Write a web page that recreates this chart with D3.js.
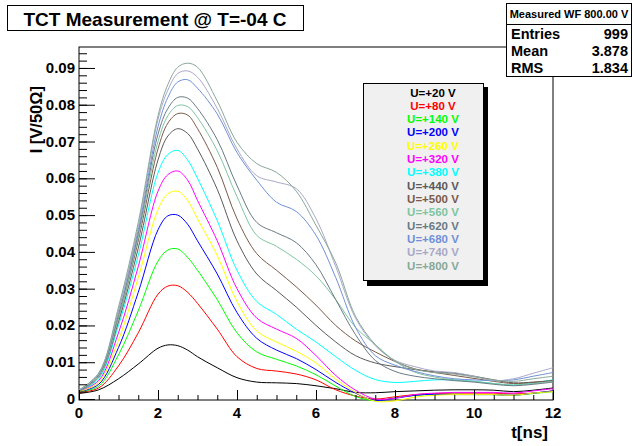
<!DOCTYPE html>
<html lang="en">
<head>
<meta charset="UTF-8">
<title>TCT Measurement</title>
<style>
  body { margin: 0; background: #fff; }
  svg { display: block; font-family: "Liberation Sans", Arial, sans-serif; font-weight: bold; }
</style>
</head>
<body>
<div id="wrapper"></div>
<script src="https://cdnjs.cloudflare.com/ajax/libs/d3/7.8.5/d3.min.js"></script>
<script>

// time samples [ns]
const times = [0, 0.5, 1, 1.5, 2, 2.25, 2.5, 2.75, 3, 3.5, 4, 4.5, 5, 5.5, 6, 6.5, 7, 7.5, 8, 8.5, 9, 9.5, 10, 10.5, 11, 11.5, 12]

const voltages = ["U=+20 V", "U=+80 V", "U=+140 V", "U=+200 V", "U=+260 V", "U=+320 V", "U=+380 V",
  "U=+440 V", "U=+500 V", "U=+560 V", "U=+620 V", "U=+680 V", "U=+740 V", "U=+800 V"]

const colors = ["#000000", "#ff0000", "#00ff00", "#0000ff", "#ffff00", "#ff00ff", "#00ffff",
  "#5a5a5a", "#7b5a4a", "#80c4a0", "#6a7a84", "#7090d8", "#aaa8c8", "#88a898"]

// current I [V/50ohm] per voltage
const u20  = [0.0015, 0.0025, 0.0055, 0.0095, 0.0138, 0.0147, 0.0145, 0.0133, 0.0115, 0.0085, 0.0058, 0.0046, 0.0044, 0.0042, 0.0036, 0.0028, 0.0018, 0.0017, 0.0020, 0.0022, 0.0024, 0.0025, 0.0025, 0.0024, 0.0020, 0.0024, 0.0030]
const u80  = [0.0018, 0.0030, 0.0090, 0.0180, 0.0285, 0.0307, 0.0308, 0.0290, 0.0260, 0.0190, 0.0115, 0.0083, 0.0076, 0.0068, 0.0052, 0.0025, 0.0008, 0.0000, 0.0006, 0.0012, 0.0015, 0.0016, 0.0016, 0.0016, 0.0014, 0.0016, 0.0022]
const u140 = [0.0020, 0.0035, 0.0120, 0.0240, 0.0375, 0.0405, 0.0408, 0.0385, 0.0350, 0.0270, 0.0180, 0.0128, 0.0108, 0.0090, 0.0066, 0.0035, 0.0007, -0.0005, 0.0003, 0.0010, 0.0012, 0.0013, 0.0012, 0.0012, 0.0010, 0.0015, 0.0020]
const u200 = [0.0020, 0.0040, 0.0140, 0.0290, 0.0460, 0.0498, 0.0500, 0.0475, 0.0430, 0.0340, 0.0235, 0.0165, 0.0133, 0.0110, 0.0080, 0.0045, 0.0016, -0.0004, 0.0002, 0.0010, 0.0013, 0.0012, 0.0012, 0.0012, 0.0010, 0.0016, 0.0022]
const u260 = [0.0020, 0.0045, 0.0160, 0.0330, 0.0515, 0.0558, 0.0565, 0.0540, 0.0490, 0.0390, 0.0265, 0.0185, 0.0155, 0.0130, 0.0098, 0.0054, 0.0018, -0.0006, -0.0005, 0.0005, 0.0010, 0.0012, 0.0012, 0.0012, 0.0010, 0.0016, 0.0020]
const u320 = [0.0022, 0.0050, 0.0180, 0.0360, 0.0565, 0.0610, 0.0620, 0.0595, 0.0540, 0.0430, 0.0300, 0.0220, 0.0190, 0.0165, 0.0118, 0.0064, 0.0024, 0.0000, 0.0002, 0.0012, 0.0016, 0.0018, 0.0018, 0.0018, 0.0016, 0.0022, 0.0028]
const u380 = [0.0022, 0.0055, 0.0200, 0.0390, 0.0615, 0.0665, 0.0676, 0.0650, 0.0600, 0.0485, 0.0350, 0.0265, 0.0230, 0.0190, 0.0155, 0.0115, 0.0078, 0.0053, 0.0045, 0.0048, 0.0052, 0.0052, 0.0048, 0.0042, 0.0038, 0.0044, 0.0052]
const u440 = [0.0022, 0.0060, 0.0210, 0.0410, 0.0650, 0.0715, 0.0735, 0.0722, 0.0680, 0.0570, 0.0430, 0.0340, 0.0295, 0.0250, 0.0200, 0.0155, 0.0118, 0.0098, 0.0088, 0.0080, 0.0074, 0.0070, 0.0062, 0.0052, 0.0044, 0.0046, 0.0050]
const u500 = [0.0022, 0.0060, 0.0220, 0.0430, 0.0680, 0.0750, 0.0776, 0.0772, 0.0735, 0.0630, 0.0490, 0.0395, 0.0350, 0.0305, 0.0255, 0.0200, 0.0158, 0.0128, 0.0102, 0.0082, 0.0072, 0.0064, 0.0056, 0.0048, 0.0042, 0.0045, 0.0050]
const u560 = [0.0022, 0.0060, 0.0220, 0.0440, 0.0700, 0.0770, 0.0798, 0.0795, 0.0765, 0.0675, 0.0550, 0.0445, 0.0415, 0.0380, 0.0335, 0.0270, 0.0195, 0.0148, 0.0103, 0.0073, 0.0060, 0.0052, 0.0048, 0.0042, 0.0038, 0.0042, 0.0048]
const u620 = [0.0022, 0.0065, 0.0230, 0.0450, 0.0720, 0.0790, 0.0820, 0.0818, 0.0790, 0.0705, 0.0580, 0.0480, 0.0452, 0.0425, 0.0365, 0.0270, 0.0175, 0.0105, 0.0075, 0.0062, 0.0055, 0.0050, 0.0046, 0.0040, 0.0036, 0.0040, 0.0046]
const u680 = [0.0024, 0.0070, 0.0240, 0.0460, 0.0740, 0.0820, 0.0862, 0.0868, 0.0845, 0.0775, 0.0670, 0.0595, 0.0535, 0.0510, 0.0445, 0.0330, 0.0195, 0.0118, 0.0092, 0.0075, 0.0063, 0.0055, 0.0052, 0.0050, 0.0052, 0.0062, 0.0072]
const u740 = [0.0024, 0.0070, 0.0240, 0.0470, 0.0760, 0.0840, 0.0885, 0.0892, 0.0875, 0.0790, 0.0680, 0.0607, 0.0590, 0.0572, 0.0490, 0.0360, 0.0220, 0.0145, 0.0105, 0.0088, 0.0076, 0.0072, 0.0062, 0.0050, 0.0055, 0.0070, 0.0085]
const u800 = [0.0025, 0.0070, 0.0250, 0.0480, 0.0770, 0.0855, 0.0902, 0.0913, 0.0902, 0.0810, 0.0698, 0.0640, 0.0616, 0.0565, 0.0472, 0.0370, 0.0225, 0.0148, 0.0103, 0.0081, 0.0072, 0.0068, 0.0060, 0.0052, 0.0048, 0.0055, 0.0062]

const seriesValues = [u20, u80, u140, u200, u260, u320, u380, u440, u500, u560, u620, u680, u740, u800]

const xTicks = [0, 2, 4, 6, 8, 10, 12]
const yTicks = [0, 0.01, 0.02, 0.03, 0.04, 0.05, 0.06, 0.07, 0.08, 0.09]

const statLabels = ["Entries", "Mean", "RMS"]
const statValues = ["999", "3.878", "1.834"]

const width = 633
const height = 446
const frame = { left: 79, right: 553, top: 47, bottom: 400 }

const svg = d3.select("#wrapper").append("svg")
  .attr("width", width)
  .attr("height", height)

svg.append("rect").attr("width", width).attr("height", height).attr("fill", "#fff")

const xScale = d3.scaleLinear().domain([0, 12]).range([frame.left, frame.right])
const yScale = d3.scaleLinear().domain([-0.00027, 0.0957]).range([frame.bottom, frame.top])

// frame
svg.append("rect")
  .attr("x", frame.left).attr("y", frame.top)
  .attr("width", frame.right - frame.left).attr("height", frame.bottom - frame.top)
  .attr("fill", "none").attr("stroke", "#000").attr("stroke-width", 1)

// curves
const line = d3.line()
  .x((d, i) => xScale(times[i]))
  .y(d => yScale(d))
  .curve(d3.curveCatmullRom.alpha(0.5))

const plot = svg.append("g")
seriesValues.forEach((vals, k) => {
  plot.append("path")
    .attr("d", line(vals))
    .attr("fill", "none")
    .attr("stroke", colors[k])
    .attr("stroke-width", 1)
})

// x axis (ticks point up into the frame)
const xMinor = d3.range(0, 12.01, 0.5)
const xAxis = d3.axisTop(xScale).tickValues(xMinor).tickSize(5).tickFormat("")
svg.append("g").attr("transform", `translate(0,${frame.bottom})`).call(xAxis)
const xMajor = d3.axisTop(xScale).tickValues(xTicks).tickSize(10).tickFormat("")
svg.append("g").attr("transform", `translate(0,${frame.bottom})`).call(xMajor)
svg.append("g").selectAll("text").data(xTicks).join("text")
  .attr("x", d => xScale(d)).attr("y", 418)
  .attr("text-anchor", "middle").attr("font-size", 15)
  .text(d => d)

// y axis (ticks point right into the frame)
const yMinor = d3.range(0, 0.0951, 0.002)
const yAxis = d3.axisRight(yScale).tickValues(yMinor).tickSize(8).tickFormat("")
svg.append("g").attr("transform", `translate(${frame.left},0)`).call(yAxis)
const yMajor = d3.axisRight(yScale).tickValues(yTicks).tickSize(16).tickFormat("")
svg.append("g").attr("transform", `translate(${frame.left},0)`).call(yMajor)
svg.append("g").selectAll("text").data(yTicks).join("text")
  .attr("x", 75).attr("y", d => yScale(d) + 5)
  .attr("text-anchor", "end").attr("font-size", 15)
  .text(d => d === 0 ? "0" : d3.format(".2f")(d))

svg.selectAll(".domain").remove()
svg.selectAll(".tick line").attr("stroke", "#000")

// axis titles
svg.append("text")
  .attr("x", 548).attr("y", 438)
  .attr("text-anchor", "end").attr("font-size", 17)
  .text("t[ns]")
svg.append("text")
  .attr("transform", "translate(42,86) rotate(-90)")
  .attr("text-anchor", "end").attr("font-size", 16.5)
  .text("I [V/50\u03a9]")

// title box
svg.append("rect")
  .attr("x", 7.5).attr("y", 5.5).attr("width", 296).attr("height", 25)
  .attr("fill", "#fff").attr("stroke", "#000")
svg.append("text")
  .attr("x", 155).attr("y", 25.5)
  .attr("text-anchor", "middle").attr("font-size", 19)
  .text("TCT Measurement @ T=-04 C")

// stats box
const stats = svg.append("g")
stats.append("rect")
  .attr("x", 506.5).attr("y", 3.5).attr("width", 125).attr("height", 73)
  .attr("fill", "#fff").attr("stroke", "#000")
stats.append("line")
  .attr("x1", 506.5).attr("x2", 631.5).attr("y1", 24.5).attr("y2", 24.5)
  .attr("stroke", "#000")
stats.append("text")
  .attr("x", 569).attr("y", 18)
  .attr("text-anchor", "middle").attr("font-size", 11)
  .text("Measured WF 800.00 V")
statLabels.forEach((s, i) => {
  stats.append("text").attr("x", 511).attr("y", 39 + i * 17)
    .attr("font-size", 14.5).text(s)
  stats.append("text").attr("x", 628).attr("y", 39 + i * 17)
    .attr("text-anchor", "end").attr("font-size", 14.5).text(statValues[i])
})

// legend
const legend = svg.append("g")
legend.append("rect")
  .attr("x", 367).attr("y", 87).attr("width", 121).attr("height", 199)
  .attr("fill", "#000")
legend.append("rect")
  .attr("x", 363.5).attr("y", 83.5).attr("width", 120).attr("height", 197)
  .attr("fill", "#f0f0f0").attr("stroke", "#000")
voltages.forEach((v, i) => {
  legend.append("text")
    .attr("x", 433).attr("y", 96.5 + i * 13.33)
    .attr("text-anchor", "middle").attr("font-size", 11.5)
    .attr("fill", colors[i])
    .text(v)
})

</script>
</body>
</html>
